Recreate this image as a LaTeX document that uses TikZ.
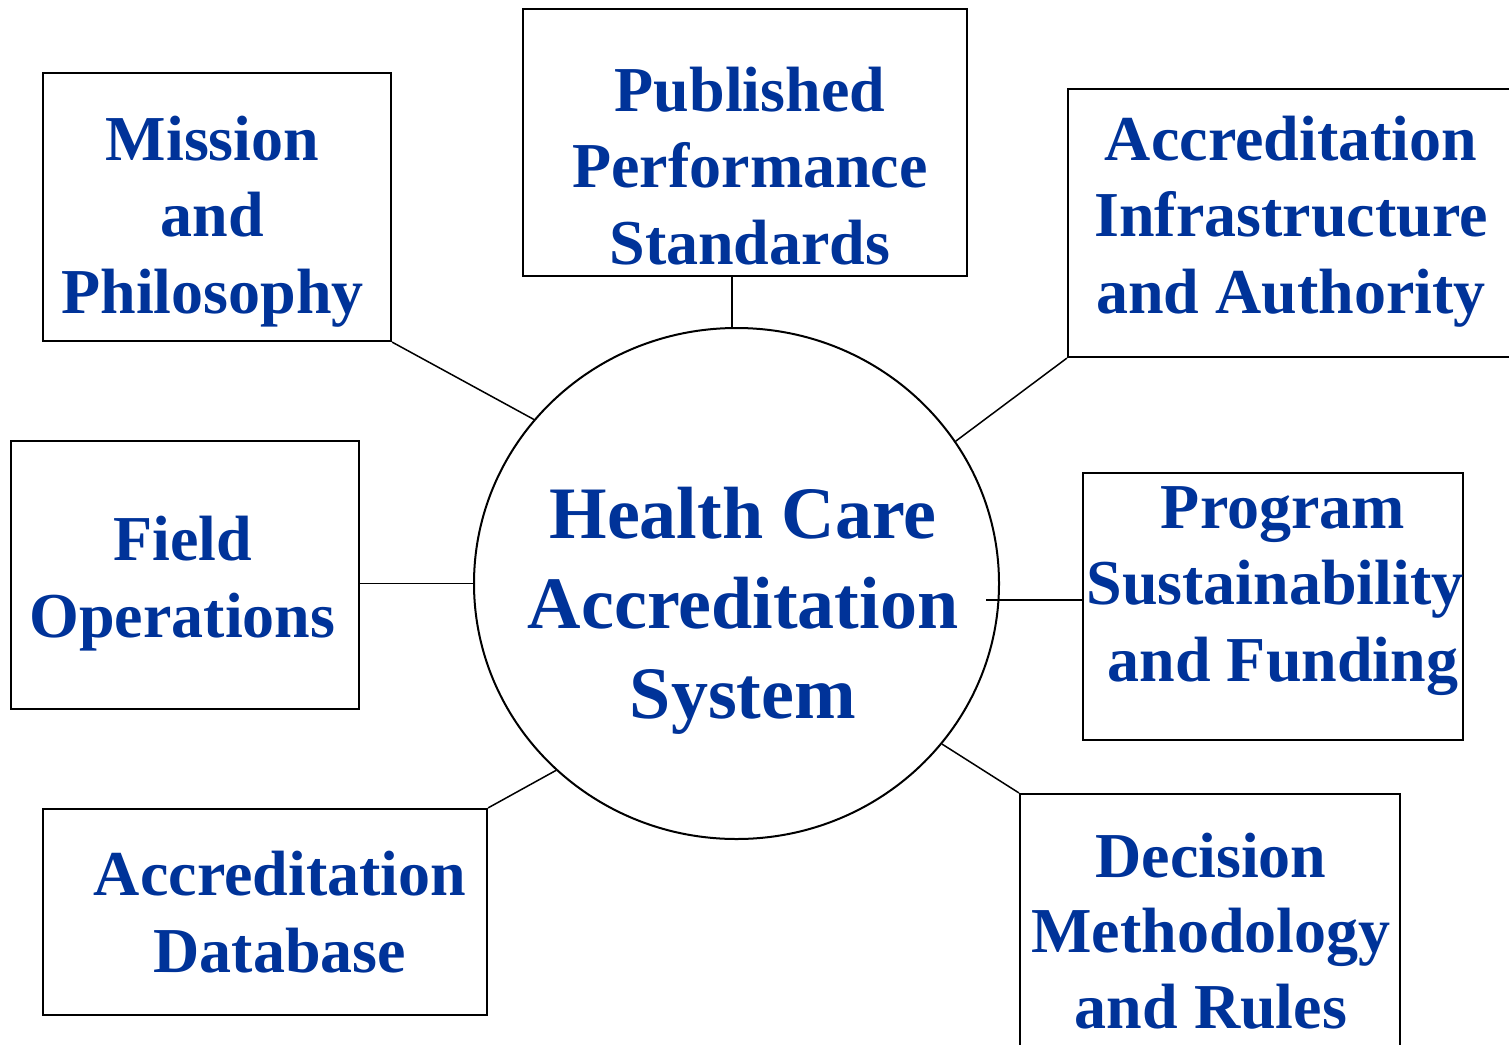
\documentclass[tikz,border=0pt]{standalone}
\usepackage{fontspec}
\setmainfont{Liberation Serif}
\usetikzlibrary{shapes.geometric}
\definecolor{labelblue}{RGB}{0,51,153}
% strut fixing the height of a label's first line
\newcommand\firststrut[1]{\rule{0pt}{#1}}
\begin{document}
\begin{tikzpicture}[x=1pt,y=-1pt,
  topic/.style={draw=black,line width=2.2pt,rectangle,inner sep=0pt,fill=white},
  boxtext/.style={anchor=north,inner sep=0pt,align=center,text=labelblue,
    font=\fontsize{64}{76.5}\selectfont\bfseries},
  hubtext/.style={anchor=north,inner sep=0pt,align=center,text=labelblue,
    font=\fontsize{74}{90}\selectfont\bfseries},
  link/.style={draw=black,line width=1.5pt}]
\useasboundingbox (0,0) rectangle (1509,1044);
\fill[white] (0,0) rectangle (1509,1044);

% central system
\node[ellipse,draw=black,line width=2pt,inner sep=0pt,
      minimum width=525pt,minimum height=511pt] (hub) at (736.5,583.5) {};

% surrounding components
\node[topic,minimum width=348pt,minimum height=268pt] (mission)   at (217,207) {};
\node[topic,minimum width=444pt,minimum height=267pt] (published) at (745,142.5) {};
\node[topic,minimum width=472pt,minimum height=268pt] (infra)     at (1304,223) {};
\node[topic,minimum width=348pt,minimum height=268pt] (field)     at (185,575) {};
\node[topic,minimum width=380pt,minimum height=267pt] (program)   at (1273,606.5) {};
\node[topic,minimum width=380pt,minimum height=268pt] (decision)  at (1210,928) {};
\node[topic,minimum width=444pt,minimum height=206pt] (database)  at (265,912) {};

% labels
\node[hubtext] (hubl) at (743,482.5)
  {\firststrut{55.5pt}Health Care\\Accreditation\\System};
\node[boxtext] (missionl) at (212.5,112)
  {\firststrut{48pt}Mission\\and\\Philosophy};
\node[boxtext] (publishedl) at (750,63)
  {\firststrut{48pt}Published\\Performance\\Standards};
\node[boxtext] (infral) at (1291,112)
  {\firststrut{48pt}Accreditation\\Infrastructure\\and Authority};
\node[boxtext,font=\fontsize{64}{77}\selectfont\bfseries] (fieldl) at (182.5,512)
  {\firststrut{48pt}Field\\Operations};
\node[boxtext] (programl) at (1283,480)
  {\firststrut{48pt}Program\\Sustainability\kern16pt\relax\\and Funding};
\node[boxtext,font=\fontsize{64}{75.5}\selectfont\bfseries] (decisionl) at (1211,829)
  {\firststrut{48pt}Decision\\Methodology\\and Rules};
\node[boxtext,font=\fontsize{64}{77}\selectfont\bfseries] (databasel) at (280,847)
  {\firststrut{48pt}Accreditation\\Database};

% connectors
\coordinate (pin) at (986,600);
\draw[link] (mission.south east) -- (hub.141);
\draw[link] (published.south -| hub.91.5) -- (hub.91.5);
\draw[link] (infra.south west) -- (hub.33);
\draw[link] (hub.west) -- (hub.west -| field.east);
\draw[link] (pin) -- (pin -| program.west);
\draw[link] (decision.north west) -- (hub.-38.5);
\draw[link] (database.north east) -- (hub.226);
\end{tikzpicture}
\end{document}
